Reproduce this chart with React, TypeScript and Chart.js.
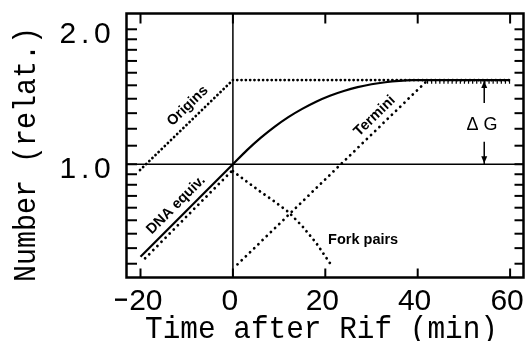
import React, { useEffect, useRef } from "react";
import { Chart, registerables } from "chart.js";

Chart.register(...registerables);

// ---- axis ranges & ticks ----
const X_MIN = -23.03;
const X_MAX = 62.9;
const Y_MIN = 0.559;
const Y_MAX = 2.169;
const xTicks = [-20, 0, 20, 40, 60];
const xTickLabels = ["-20", "0", "20", "40", "60"];
const yTicks = [0.6, 0.65, 0.7, 0.75, 0.8, 0.85, 0.9, 0.95, 1.0, 1.1, 1.2, 1.3, 1.4, 1.5, 1.6, 1.7, 1.8, 1.9, 2.0];
const yLabelValues = [1.0, 2.0];
const yLabelTexts = ["1.0", "2.0"];

// ---- series ----
const dnaPreT = [-20, 0];
const dnaPreV = [0.622, 1.0];
const dnaPostT = [0, 3, 6, 9, 12, 15, 18, 21, 24, 27, 30, 33, 36, 39, 43, 60];
const dnaPostV = [1.0, 1.074, 1.145, 1.212, 1.274, 1.329, 1.379, 1.422, 1.457, 1.486, 1.508, 1.524, 1.5345, 1.54, 1.541, 1.541];
const originsT = [-20.1, 0, 60];
const originsV = [0.971, 1.541, 1.541];
const terminiT = [1, 42];
const terminiV = [0.598, 1.535];
const terminiPlateauT = [42, 60];
const terminiPlateauV = [1.53, 1.53];
const forkPreT = [-19, 0];
const forkPreV = [0.617, 0.972];
const forkPostT = [0, 3, 6, 9, 12, 15, 18, 21];
const forkPostV = [0.965, 0.915, 0.868, 0.826, 0.783, 0.728, 0.668, 0.602];

// ---- annotation anchors (data coords) ----
const originsLabel = { t: -9.79, v: 1.349, text: "Origins" };
const dnaLabel = { t: -12.32, v: 0.811, text: "DNA equiv." };
const terminiLabel = { t: 30.7, v: 1.281, text: "Termini" };
const forkLabel = { t: 20.6, v: 0.664, text: "Fork pairs" };
const dGLabel = { t: 53.9, v: 1.224, text: "\u0394 G" };
const dGArrowT = 54.4;
const dGArrowTop = 1.541;
const dGArrowBottom = 1.0;
const dGGapTop = 1.37;
const dGGapBottom = 1.123;

const pts = (ts: number[], vs: number[]) => ts.map((t, i) => ({ x: t, y: vs[i] }));

const MONO = '"Liberation Mono", "DejaVu Sans Mono", monospace';
const SANS = '"Liberation Sans", Arial, sans-serif';

function fitText(
  ctx: CanvasRenderingContext2D,
  text: string,
  x: number,
  y: number,
  font: string,
  opts: { width?: number; sx?: number; align?: CanvasTextAlign; rot?: number; baseline?: CanvasTextBaseline }
) {
  ctx.save();
  ctx.font = font;
  const w = ctx.measureText(text).width;
  const sx = opts.width ? opts.width / w : opts.sx ?? 1;
  ctx.translate(x, y);
  if (opts.rot) ctx.rotate(opts.rot);
  ctx.scale(sx, 1);
  ctx.textAlign = opts.align ?? "center";
  ctx.textBaseline = opts.baseline ?? "alphabetic";
  ctx.fillText(text, 0, 0);
  ctx.restore();
}

// draws each character centred in a fixed-pitch cell (plotter style)
function cellText(
  ctx: CanvasRenderingContext2D,
  text: string,
  x: number,
  y: number,
  font: string,
  pitch: number,
  align: "center" | "right"
) {
  ctx.save();
  ctx.font = font;
  ctx.textAlign = "center";
  ctx.textBaseline = "alphabetic";
  const total = pitch * text.length;
  const start = align === "center" ? x - total / 2 : x - total;
  for (let i = 0; i < text.length; i++) {
    const ch = text[i];
    const cx = start + pitch * i + pitch / 2;
    if (ch === "-") {
      ctx.fillRect(cx - 6, y - 11, 12, 2.4);
    } else {
      ctx.fillText(ch, cx, y);
    }
  }
  ctx.restore();
}

const decor = {
  id: "decor",
  afterDatasetsDraw(chart: any) {
    const ctx: CanvasRenderingContext2D = chart.ctx;
    const xs = chart.scales.x;
    const ys = chart.scales.y;
    const a = chart.chartArea;
    const X = (t: number) => xs.getPixelForValue(t);
    const Y = (v: number) => ys.getPixelForValue(v);
    const line = (x1: number, y1: number, x2: number, y2: number) => {
      ctx.beginPath();
      ctx.moveTo(x1, y1);
      ctx.lineTo(x2, y2);
      ctx.stroke();
    };
    ctx.save();
    ctx.strokeStyle = "#000";
    ctx.fillStyle = "#000";
    ctx.lineCap = "butt";

    // reference lines
    ctx.lineWidth = 1.5;
    line(X(0), a.top, X(0), a.bottom);
    line(a.left, Y(1), a.right, Y(1));

    // frame
    ctx.lineWidth = 2.5;
    ctx.strokeRect(a.left, a.top, a.right - a.left, a.bottom - a.top);

    // ticks (inward)
    ctx.lineWidth = 2;
    yTicks.forEach((v) => {
      const y = Y(v);
      line(a.left, y, a.left + 10.5, y);
      line(a.right, y, a.right - 9, y);
    });
    xTicks.forEach((t) => {
      const x = X(t);
      line(x, a.bottom, x, a.bottom - 9);
      line(x, a.top, x, a.top + 10);
    });

    // tick labels
    const tickFont = `30px ${SANS}`;
    xTicks.forEach((t, i) => {
      cellText(ctx, xTickLabels[i], X(t) - 3, a.bottom + 32, tickFont, 16.5, "center");
    });
    yLabelValues.forEach((v, i) => {
      cellText(ctx, yLabelTexts[i], 111, Y(v) + 14, tickFont, 17.3, "right");
    });

    // axis titles
    fitText(ctx, "Time after Rif (min)", 321.5, 338, `32px ${MONO}`, { width: 353 });
    fitText(ctx, "Number (relat.)", 35, 154.5, `32px ${MONO}`, { width: 255, rot: -Math.PI / 2 });

    // rotated series labels
    const angle = (t1: number, v1: number, t2: number, v2: number) =>
      Math.atan2(Y(v2) - Y(v1), X(t2) - X(t1));
    const bold = `bold 14.5px ${SANS}`;
    fitText(ctx, originsLabel.text, X(originsLabel.t), Y(originsLabel.v), bold, {
      rot: angle(originsT[0], originsV[0], originsT[1], originsV[1]),
      baseline: "middle",
    });
    fitText(ctx, dnaLabel.text, X(dnaLabel.t), Y(dnaLabel.v), bold, {
      rot: angle(dnaPreT[0], dnaPreV[0], dnaPreT[1], dnaPreV[1]),
      baseline: "middle",
    });
    fitText(ctx, terminiLabel.text, X(terminiLabel.t), Y(terminiLabel.v), bold, {
      rot: angle(terminiT[0], terminiV[0], terminiT[1], terminiV[1]),
      baseline: "middle",
    });
    fitText(ctx, forkLabel.text, X(forkLabel.t), Y(forkLabel.v), bold, { align: "left" });

    // Delta G annotation
    fitText(ctx, dGLabel.text, X(dGLabel.t), Y(dGLabel.v), `18px ${SANS}`, { baseline: "middle" });
    const ax = X(dGArrowT);
    ctx.lineWidth = 1.5;
    line(ax, Y(dGArrowTop), ax, Y(dGGapTop));
    line(ax, Y(dGGapBottom), ax, Y(dGArrowBottom));
    const head = (tipY: number, dir: number) => {
      ctx.beginPath();
      ctx.moveTo(ax, tipY);
      ctx.lineTo(ax - 3, tipY + dir * 7);
      ctx.lineTo(ax + 3, tipY + dir * 7);
      ctx.closePath();
      ctx.fill();
    };
    head(Y(dGArrowTop) + 1, 1);
    head(Y(dGArrowBottom) - 1, -1);

    ctx.restore();
  },
};

export default function App() {
  const ref = useRef<HTMLCanvasElement | null>(null);
  useEffect(() => {
    if (!ref.current) return;
    const solid = { borderColor: "#000", borderWidth: 2.2, pointRadius: 0, fill: false };
    const dotted = (gap: number) => ({
      borderColor: "#000",
      borderWidth: 2.8,
      pointRadius: 0,
      fill: false,
      borderDash: [0.01, gap],
      borderCapStyle: "round" as const,
      tension: 0,
    });
    const chart = new Chart(ref.current, {
      type: "line",
      data: {
        datasets: [
          { ...solid, data: pts(dnaPreT, dnaPreV), tension: 0 },
          { ...solid, data: pts(dnaPostT, dnaPostV), cubicInterpolationMode: "monotone" },
          { ...dotted(4.3), data: pts(originsT, originsV) },
          { ...dotted(5.8), data: pts(terminiT, terminiV) },
          {
            borderColor: "#000",
            borderWidth: 4.5,
            pointRadius: 0,
            fill: false,
            borderDash: [1.2, 2.9],
            borderCapStyle: "butt",
            data: pts(terminiPlateauT, terminiPlateauV),
          },
          { ...dotted(5.8), data: pts(forkPreT, forkPreV) },
          { ...dotted(5.6), data: pts(forkPostT, forkPostV) },
        ] as any,
      },
      options: {
        responsive: false,
        devicePixelRatio: 1,
        animation: false,
        events: [],
        layout: { padding: { left: 126.5, right: 2.5, top: 13.5, bottom: 63.5 } },
        plugins: { legend: { display: false }, tooltip: { enabled: false } },
        scales: {
          x: { type: "linear", min: X_MIN, max: X_MAX, display: false },
          y: { type: "logarithmic", min: Y_MIN, max: Y_MAX, display: false },
        },
      },
      plugins: [decor],
    });
    return () => chart.destroy();
  }, []);
  return (
    <div style={{ position: "absolute", left: 0, top: 0, width: 526, height: 341, background: "#fff" }}>
      <canvas ref={ref} width={526} height={341} style={{ display: "block" }} />
    </div>
  );
}
